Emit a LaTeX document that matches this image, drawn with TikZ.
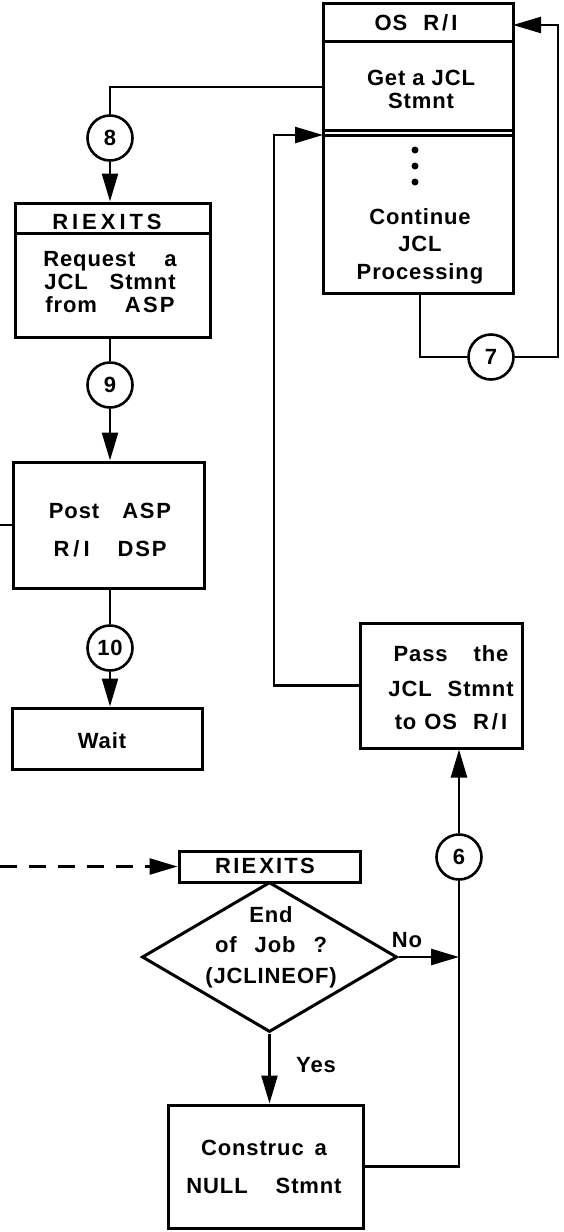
\documentclass[tikz,border=0pt]{standalone}
\usepackage{fontspec}
\setmainfont{Liberation Sans}[LetterSpace=4]
\usetikzlibrary{arrows.meta,shapes.geometric}
\newcommand{\wide}[2]{{\addfontfeature{LetterSpace=#1}#2}}
\tikzset{
  boxline/.style={draw,line width=3pt,rectangle,inner sep=0pt},
  conn/.style={line width=2.4pt},
  arr/.style={conn,-{Triangle[length=28pt,width=16pt]}},
  conncirc/.style={draw,circle,line width=2.6pt,minimum size=45pt,inner sep=0pt,font=\fontsize{22}{23}\selectfont\bfseries},
  lbl/.style={inner sep=0pt,align=center,font=\fontsize{22}{23}\selectfont\bfseries},
  dot/.style={circle,fill,inner sep=0pt,minimum size=7pt}
}
\begin{document}
\begin{tikzpicture}[x=1pt,y=-1pt]
\useasboundingbox (0,0) rectangle (564,1232);
% boxes
\node[boxline,minimum width=190pt,minimum height=290pt] (os) at (418,148) {};
\node[boxline,minimum width=195pt,minimum height=134pt] (rx1) at (112.5,270) {};
\node[boxline,minimum width=191pt,minimum height=126pt] (post) at (108.5,525) {};
\node[boxline,minimum width=190pt,minimum height=61pt] (wait) at (107,738.5) {};
\node[boxline,minimum width=162pt,minimum height=125pt] (pass) at (441,685.5) {};
\node[boxline,minimum width=181pt,minimum height=31pt] (rx2) at (269.5,866.5) {};
\node[boxline,minimum width=195pt,minimum height=123pt] (cons) at (265.5,1166.5) {};
\node[draw,diamond,line width=3pt,inner sep=0pt,minimum width=255pt,minimum height=150pt] (dia) at (269.5,957) {};
% header dividers
\draw[line width=3pt] ([yshift=-40pt]os.north west) -- ([yshift=-40pt]os.north east);
\draw[line width=2.4pt] ([yshift=-129pt]os.north west) -- ([yshift=-129pt]os.north east);
\draw[line width=2.4pt] ([yshift=-134pt]os.north west) -- ([yshift=-134pt]os.north east);
\draw[line width=3pt] ([yshift=-32pt]rx1.north west) -- ([yshift=-32pt]rx1.north east);
% texts
\node[lbl] (t-os) at (416,23) {OS\hspace{16pt}R\hspace{3pt}/\hspace{3pt}I};
\node[lbl] (t-get) at (421,89) {Get a JCL\\Stmnt};
\node[dot] (d1) at (415,150) {};
\node[dot] (d2) at (415,166) {};
\node[dot] (d3) at (415,182) {};
\node[lbl] (t-cont) at (420,246) {Continue\\[4.5pt]JCL\\[4.5pt]Processing};
\node[lbl] (t-rx1) at (107,221.5) {\wide{18}{RIEXITS}};
\node[lbl] (t-req) at (110,282) {Request\hspace{29pt}a\\JCL\hspace{22pt}Stmnt\\from\hspace{28pt}\wide{10}{ASP}};
\node[lbl] (t-post) at (110,530) {Post\hspace{23pt}\wide{8}{ASP}\\[15pt]R\hspace{4pt}/\hspace{4pt}I\hspace{28pt}\wide{8}{DSP}};
\node[lbl] (t-wait) at (102,741) {Wait};
\node[lbl] (t-pass) at (451,688) {Pass\hspace{26pt}the\\[12pt]JCL\hspace{16pt}Stmnt\\[10pt]to\hspace{8pt}OS\hspace{16pt}R\hspace{3pt}/\hspace{3pt}I};
\node[lbl] (t-rx2) at (265,866) {\wide{10}{RIE\hspace{3pt}XITS}};
\node[lbl] (t-dia) at (271,947) {End\\[7pt]of\hspace{18pt}Job\hspace{18pt}?\\[8pt](JCLINEOF)};
\node[lbl] (t-no) at (407,940.5) {No};
\node[lbl] (t-yes) at (316,1065.5) {Yes};
\node[lbl] (t-cons) at (264,1166.5) {Construc\hspace{11pt}a\\[15pt]NULL\hspace{28pt}Stmnt};
% connector circles
\node[conncirc] (c8) at (110,138) {8};
\node[conncirc] (c9) at (110,385) {9};
\node[conncirc] (c10) at (110,648) {10};
\node[conncirc] (c7) at (491,357) {7};
\node[conncirc] (c6) at (459,857) {6};
% coordinates
\coordinate (osout) at (323,87);
\coordinate (osin) at (323,135);
\coordinate (osbot) at (420,293);
\coordinate (rloop) at (558,25);
\coordinate (ostop) at (513,25);
\coordinate (retx) at (274,0);
\coordinate (lstub) at (0,525);
\coordinate (dstart) at (0,866.5);
% connectors
\draw[conn] (osout) -| (c8.north);
\draw[arr] (c8.south) -- (c8.south |- rx1.north);
\draw[conn] (c9.north |- rx1.south) -- (c9.north);
\draw[arr] (c9.south) -- (c9.south |- post.north);
\draw[conn] (c10.north |- post.south) -- (c10.north);
\draw[arr] (c10.south) -- (c10.south |- wait.north);
\draw[conn] (post.west) -- (lstub);
\draw[conn] (osbot) |- (c7.west);
\draw[arr] (c7.east) -| (rloop) -- (ostop);
\draw[arr] (pass.west) -- (pass.west -| retx) |- (osin);
\draw[arr] (c6.north) -- (c6.north |- pass.south);
\draw[conn] (cons.east) -| (c6.south);
\draw[arr] (dia.east) -- (dia.east -| c6);
\draw[arr] (dia.south) -- (dia.south |- cons.north);
\draw[arr,dash pattern=on 17pt off 12pt] (dstart) -- (rx2.west);
\end{tikzpicture}
\end{document}
